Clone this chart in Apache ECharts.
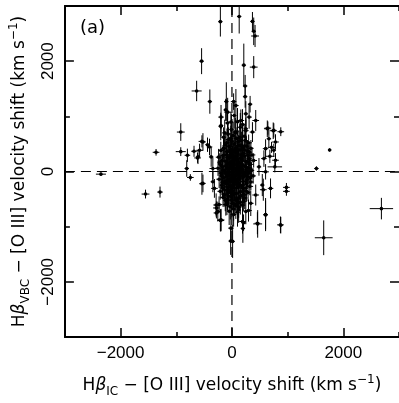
<!DOCTYPE html>
<html>
<head>
<meta charset="utf-8">
<script src="https://cdn.jsdelivr.net/npm/echarts@6/dist/echarts.min.js"></script>
<style>html,body{margin:0;padding:0;background:#fff}#c{width:399px;height:403px}</style>
</head>
<body>
<div id="c"></div>
<script>
// Hβ_IC − [O III] shift (x), Hβ_VBC − [O III] shift (y), and their errors (km/s)
const velIC = [
 -208,-545,-634,-397,-919,-1363,-919,-800,-681,-539,-617,-439,-812,-101,-112,-201,
 130,368,391,415,213,391,237,237,326,30,877,645,741,1754,1517,770,681,711,
 -2353,-1552,-1292,-747,-539,-201,-279,-279,-231,-23,2684,1648,978,978,877,604,462,196,208,297,563,-208,
 -196,-196,-77,-18,71,41,160,249,308,427,249,368,635,752,663,782,604,752,782,574,485,604,
 -521,-581,-610,-403,-373,-343,-521,-343,-315,-284,-254,-196,-18,12,190,249,457,604,871,693,545,427,338,
 -150,-60,20,90,160,220,300,-120,-40,40,120,190,260,340,-200,-90,0,70,140,210,280,360,
 -240,-160,-70,10,80,150,230,310,390,-220,-130,-50,30,100,170,250,330,
 -250,-170,-90,-20,50,120,190,270,350,-200,-120,-40,20,90,160,230,300,380,
 -230,-150,-70,0,60,130,200,270,340,-180,-100,-30,40,110,180,250,320,
 -210,-130,-60,10,80,150,220,290,-160,-80,0,70,140,210,-110,-30,50,120,190,-50,30,100,
 -130,-10,70,150,250,-80,100,190,
 -10,60,130,-80,40,110,-40,180,20,90,-110,150,-20,70,200,-170,240,0,110,-60,260,-140,320,30
];
const velVBC = [
 2716,2000,1460,1267,715,348,360,294,366,546,246,486,54,1267,1117,816,
 2811,2721,2541,2456,1928,1892,1550,1357,1220,1267,721,787,739,391,54,84,276,438,
 -48,-409,-373,-108,-222,-889,-661,-751,-601,-1261,-673,-1201,-288,-360,-973,-781,-950,-1033,-931,-708,-330,-883,
 986,834,1076,896,1195,1015,925,1045,986,925,775,715,775,745,595,535,414,384,204,234,84,-6,
 535,384,265,445,265,54,-216,-186,-306,-607,-726,-877,-1027,-1267,-906,-726,-937,-787,-967,-306,-246,-426,-577,
 620,580,650,600,560,640,520,480,450,500,470,430,460,420,380,360,400,340,390,330,370,300,
 260,290,250,300,270,240,280,230,200,160,190,150,200,170,140,180,130,
 60,90,40,100,60,90,30,70,20,-30,-10,-60,0,-40,-20,-70,-30,-80,
 -140,-110,-160,-120,-170,-130,-180,-150,-190,-250,-220,-270,-240,-290,-260,-300,-270,
 -360,-330,-390,-350,-400,-370,-420,-380,-470,-500,-460,-520,-480,-540,-600,-640,-590,-650,-610,-720,-780,-740,
 700,760,720,800,740,880,900,850,
 50,-80,20,-80,130,-210,250,200,-200,120,100,-80,-320,420,-350,-200,100,550,-560,-450,-220,420,350,-680
];
const errIC = [
 40,40,90,40,70,60,90,50,50,60,60,40,40,40,40,40,
 40,40,40,70,40,70,40,40,40,50,60,60,60,30,40,130,80,70,
 90,70,50,60,50,60,60,50,60,40,210,160,60,60,40,40,80,40,40,60,60,40,
 50,40,60,40,50,40,60,40,50,60,40,50,60,50,40,60,50,40,60,50,40,60,
 50,60,40,50,40,60,50,40,60,50,40,60,50,40,60,40,50,40,60,50,40,60,50,
 40,50,40,60,40,50,60,40,60,40,50,40,60,50,50,40,50,60,40,50,40,60,
 50,40,60,40,50,60,40,50,60,40,50,40,60,40,50,40,60,
 50,40,60,40,50,40,60,40,50,40,50,40,60,40,50,40,60,50,
 50,40,60,40,50,40,60,40,50,40,50,40,60,40,50,40,60,
 50,40,60,40,50,40,60,40,50,40,60,40,50,40,50,40,60,40,50,40,50,40,
 50,40,60,40,50,40,50,40,
 30,40,30,40,30,40,30,40,30,40,30,40,30,40,30,40,30,40,30,40,30,40,30,40
];
const errVBC = [
 270,235,185,220,160,60,80,120,100,110,90,130,150,350,200,250,
 310,170,250,200,390,200,200,200,150,150,80,120,150,30,40,100,120,100,
 30,80,100,60,200,200,120,100,150,250,195,315,80,80,150,300,250,260,150,200,200,200,
 220,200,260,180,300,240,200,230,210,190,200,180,150,130,160,140,170,120,130,150,160,140,
 160,120,130,150,180,200,160,190,170,210,180,200,260,300,220,230,200,260,150,180,200,190,230,
 180,220,250,200,180,230,150,200,170,260,190,210,170,150,160,220,200,180,240,160,200,140,
 150,190,230,170,210,180,220,160,130,170,210,250,190,230,170,210,150,
 140,180,220,260,200,170,230,190,150,170,210,240,180,220,190,160,200,140,
 160,200,230,190,250,180,210,170,150,180,220,200,240,190,210,170,160,
 150,210,190,230,200,250,180,160,170,210,240,190,220,180,200,230,210,190,170,250,220,260,
 240,280,220,260,200,230,250,280,
 150,170,200,180,160,190,170,210,160,180,200,170,190,220,180,200,170,210,200,190,160,200,180,210
];
// additional objects inside the dense central clump
const coreIC = [
 -150,-90,-20,50,110,170,240,-180,-100,-30,30,100,160,220,290,-160,-80,-10,60,120,200,260,320,
 -190,-110,-50,30,70,140,210,280,-170,-90,-20,50,120,190,260,-140,-60,20,90,160,230,-90,-10,70,150,
 -40,80,10,-60,100,170,-130,240,40,-30,140,60,-70,200,-200,330,300,-120,120,0
];
const coreVBC = [
 420,520,600,380,540,470,560,200,300,350,280,330,300,390,290,20,130,170,220,150,110,10,60,
 -80,-40,-10,-60,40,-40,-100,-90,-300,-280,-180,-300,-240,-300,-360,-420,-360,-420,-480,-440,-480,-560,-520,-620,-560,
 -150,-140,80,60,10,60,-180,-30,-400,460,620,700,680,-240,120,-120,160,-520,-700,-580
];
const coreErrIC = [
 40,50,40,60,40,50,40,40,50,40,60,40,50,40,50,40,50,40,60,40,50,40,50,
 40,50,40,60,40,50,40,50,40,50,40,60,40,50,40,40,50,40,60,40,50,40,50,40,50,
 40,50,40,50,40,50,40,50,40,50,40,50,40,50,40,40,40,40,40,40
];
const coreErrVBC = [
 200,260,230,280,210,250,200,220,250,270,230,260,220,200,180,230,270,250,210,280,240,200,180,
 210,250,280,230,260,240,210,190,200,240,270,230,260,210,190,220,250,260,240,220,200,230,260,240,220,
 200,220,240,260,230,210,230,190,250,240,250,270,230,200,180,170,180,200,230,250
];

const tickMajor = [-2000, 0, 2000];
const axisMin = -3000, axisMax = 3000, axisStep = 1000;

const allIC = velIC.concat(coreIC);
const allVBC = velVBC.concat(coreVBC);
const allErrIC = errIC.concat(coreErrIC);
const allErrVBC = errVBC.concat(coreErrVBC);
const points = allIC.map((v, i) => [v, allVBC[i], allErrIC[i], allErrVBC[i]]);

function fmt(v) { return String(v).replace('-', '\u2212'); }

function renderItem(params, api) {
  const x = api.value(0), y = api.value(1), xe = api.value(2), ye = api.value(3);
  const c = api.coord([x, y]);
  const l = api.coord([x - xe, y]);
  const r = api.coord([x + xe, y]);
  const t = api.coord([x, y + ye]);
  const b = api.coord([x, y - ye]);
  return {
    type: 'group',
    children: [
      { type: 'line', shape: { x1: l[0], y1: c[1], x2: r[0], y2: c[1] }, style: { stroke: '#000', lineWidth: 1 } },
      { type: 'line', shape: { x1: c[0], y1: t[1], x2: c[0], y2: b[1] }, style: { stroke: '#000', lineWidth: 1 } },
      { type: 'circle', shape: { cx: c[0], cy: c[1], r: 1.8 }, style: { fill: '#000' } }
    ]
  };
}

const FONT = 'Liberation Sans';
const NFONT = 'DejaVu Sans';
const nameRich = {
  n: { fontSize: 17, lineHeight: 24, fontFamily: NFONT, color: '#000' },
  g: { fontSize: 17, lineHeight: 24, fontFamily: NFONT, fontStyle: 'italic', color: '#000' },
  sub: { fontSize: 12, lineHeight: 12, verticalAlign: 'bottom', fontFamily: NFONT, color: '#000' },
  sup: { fontSize: 12, lineHeight: 12, verticalAlign: 'top', fontFamily: NFONT, color: '#000' }
};

function baseAxis(pos, main, lineShown) {
  return {
    type: 'value', min: axisMin, max: axisMax, interval: axisStep, position: pos,
    axisLine: { show: main && lineShown !== false, onZero: false, lineStyle: { color: '#000', width: 2 } },
    axisTick: main
      ? { show: true, inside: true, length: 5, lineStyle: { color: '#000', width: 1.5 } }
      : { show: true, inside: true, length: 9, customValues: tickMajor, lineStyle: { color: '#000', width: 1.5 } },
    axisLabel: { show: false },
    splitLine: { show: false }
  };
}

const xMain = baseAxis('bottom', true);
xMain.axisLabel = { show: true, customValues: tickMajor, formatter: fmt, fontSize: 17, fontFamily: FONT, color: '#000', margin: 8 };
xMain.name = '{n|H}{g|\u03b2}{sub|IC}{n| \u2212 [O III] velocity shift (km s}{sup|\u22121}{n|)}';
xMain.nameLocation = 'middle';
xMain.nameGap = 37;
xMain.nameTextStyle = { rich: nameRich };

const yMain = baseAxis('left', true);
yMain.axisLabel = { show: true, customValues: tickMajor, formatter: fmt, fontSize: 17, fontFamily: FONT, color: '#000', margin: 8, rotate: 90 };
yMain.name = '{n|H}{g|\u03b2}{sub|VBC}{n| \u2212 [O III] velocity shift (km s}{sup|\u22121}{n|)}';
yMain.nameLocation = 'middle';
yMain.nameGap = 28;
yMain.nameTextStyle = { rich: nameRich };

const option = {
  backgroundColor: '#fff',
  animation: false,
  grid: { left: 63, right: -1, top: 6, bottom: 63 },
  xAxis: [xMain, baseAxis('top', true), baseAxis('bottom', false), baseAxis('top', false)],
  yAxis: [yMain, baseAxis('right', true, false), baseAxis('left', false), baseAxis('right', false)],
  graphic: [{ type: 'text', left: 80, top: 19, style: { text: '(a)', fontSize: 18, fontFamily: NFONT, fill: '#000' } }],
  series: [
    {
      type: 'line', xAxisIndex: 0, yAxisIndex: 0, showSymbol: false, silent: true,
      data: [[0, axisMin], [0, axisMax]],
      lineStyle: { color: '#000', width: 1.2, type: [10, 6] }
    },
    {
      type: 'line', xAxisIndex: 0, yAxisIndex: 0, showSymbol: false, silent: true,
      data: [[axisMin, 0], [axisMax, 0]],
      lineStyle: { color: '#000', width: 1.2, type: [10, 6] }
    },
    {
      type: 'custom', xAxisIndex: 0, yAxisIndex: 0, clip: true,
      renderItem: renderItem,
      encode: { x: 0, y: 1 },
      data: points
    }
  ]
};

const chart = echarts.init(document.getElementById('c'), null, { renderer: 'canvas' });
chart.setOption(option);
</script>
</body>
</html>
